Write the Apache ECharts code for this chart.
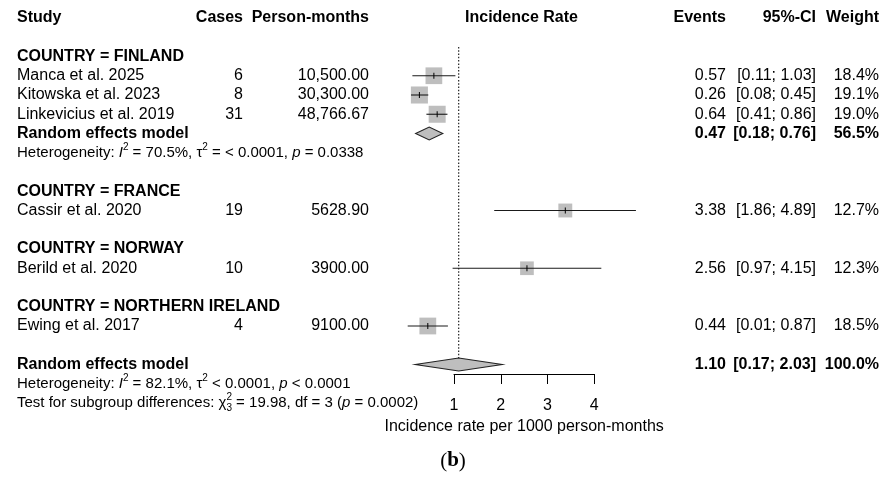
<!DOCTYPE html>
<html>
<head>
<meta charset="utf-8">
<script src="https://cdn.jsdelivr.net/npm/echarts@6/dist/echarts.min.js"></script>
<style>
  html, body { margin: 0; padding: 0; background: #ffffff; }
  #chart { width: 883px; height: 477px; }
</style>
</head>
<body>
<div id="chart"></div>
<script>
// ---- study-level data ----
const studies = ['Manca et al. 2025', 'Kitowska et al. 2023', 'Linkevicius et al. 2019',
                 'Cassir et al. 2020', 'Berild et al. 2020', 'Ewing et al. 2017'];
const studyCountry = ['FINLAND', 'FINLAND', 'FINLAND', 'FRANCE', 'NORWAY', 'NORTHERN IRELAND'];
const cases = [6, 8, 31, 19, 10, 4];
const personMonths = ['10,500.00', '30,300.00', '48,766.67', '5628.90', '3900.00', '9100.00'];
const rate = [0.57, 0.26, 0.64, 3.38, 2.56, 0.44];
const ciLower = [0.11, 0.08, 0.41, 1.86, 0.97, 0.01];
const ciUpper = [1.03, 0.45, 0.86, 4.89, 4.15, 0.87];
const weight = [18.4, 19.1, 19.0, 12.7, 12.3, 18.5];

// ---- subgroup summaries (only subgroups with more than one study are pooled) ----
const countries = ['FINLAND', 'FRANCE', 'NORWAY', 'NORTHERN IRELAND'];
const pooledRate = [0.47, null, null, null];
const pooledLower = [0.18, null, null, null];
const pooledUpper = [0.76, null, null, null];
const pooledWeight = [56.5, null, null, null];
const pooledHet = ['Heterogeneity: {i|I}{s|2} = 70.5%, τ{s|2} = < 0.0001, {i|p} = 0.0338', null, null, null];

// ---- overall random effects model ----
const overallRate = 1.10;
const overallLower = 0.17;
const overallUpper = 2.03;
const overallWeight = 100.0;
const overallHet = 'Heterogeneity: {i|I}{s|2} = 82.1%, τ{s|2} < 0.0001, {i|p} < 0.0001';
const subgroupTest = 'Test for subgroup differences: χ{s0|2}{b|3} = 19.98, df = 3 ({i|p} = 0.0002)';

// ---- axis ----
const xTicks = [1, 2, 3, 4];
const xTitle = 'Incidence rate per 1000 person-months';

// ---- layout ----
const FONT = '"Liberation Sans", Arial, Helvetica, sans-serif';
const SERIF = '"Liberation Serif", "Times New Roman", serif';
const COL = { study: 17, cases: 243, pm: 369, ir: 521.5, events: 726, ci: 816, weight: 879 };
const ROW_H = 19.25;
const DIAMOND_HALF = 6.5;
const SQUARE_K = 3.9;

// Build the list of table rows (row index = vertical slot)
const rows = [];
let r = 0;
rows.push({ kind: 'header', row: r++ });
r++;
countries.forEach((c, g) => {
  rows.push({ kind: 'group', row: r++, label: 'COUNTRY = ' + c });
  studies.forEach((s, i) => {
    if (studyCountry[i] === c) rows.push({ kind: 'study', row: r++, i });
  });
  if (pooledRate[g] != null) {
    rows.push({ kind: 'pooled', row: r++, rate: pooledRate[g], lower: pooledLower[g], upper: pooledUpper[g], weight: pooledWeight[g] });
    rows.push({ kind: 'note', row: r++, text: pooledHet[g] });
  }
  r++;
});
const overallRow = r;
rows.push({ kind: 'pooled', row: r++, rate: overallRate, lower: overallLower, upper: overallUpper, weight: overallWeight });
rows.push({ kind: 'note', row: r++, text: overallHet });
rows.push({ kind: 'note', row: r++, text: subgroupTest });

const noteRich = {
  i: { fontStyle: 'italic', fontSize: 15, fontFamily: FONT, fill: '#000' },
  s: { fontSize: 10, fontFamily: FONT, padding: [0, 0, 12, 0] },
  s0: { fontSize: 10, fontFamily: FONT, width: 0, padding: [0, 0, 12, 0] },
  b: { fontSize: 10, fontFamily: FONT, padding: [11, 0, 0, 0] }
};

function txt(text, x, y, align, bold, size) {
  return {
    type: 'text',
    style: {
      text: String(text), x, y, align, verticalAlign: 'middle',
      fill: '#000', fontFamily: FONT, fontSize: size || 16,
      fontWeight: bold ? 'bold' : 'normal'
    }
  };
}

function fmt2(v) { return v.toFixed(2); }

function renderTable(params, api) {
  const rw = rows[params.dataIndex];
  const y = api.coord([1, rw.row])[1];
  const ch = [];
  if (rw.kind === 'header') {
    ch.push(txt('Study', COL.study, y, 'left', true));
    ch.push(txt('Cases', COL.cases, y, 'right', true));
    ch.push(txt('Person-months', COL.pm, y, 'right', true));
    ch.push(txt('Incidence Rate', COL.ir, y, 'center', true));
    ch.push(txt('Events', COL.events, y, 'right', true));
    ch.push(txt('95%-CI', COL.ci, y, 'right', true));
    ch.push(txt('Weight', COL.weight, y, 'right', true));
  } else if (rw.kind === 'group') {
    ch.push(txt(rw.label, COL.study, y, 'left', true));
  } else if (rw.kind === 'study') {
    const i = rw.i;
    ch.push(txt(studies[i], COL.study, y, 'left', false));
    ch.push(txt(cases[i], COL.cases, y, 'right', false));
    ch.push(txt(personMonths[i], COL.pm, y, 'right', false));
    ch.push(txt(fmt2(rate[i]), COL.events, y, 'right', false));
    ch.push(txt('[' + fmt2(ciLower[i]) + '; ' + fmt2(ciUpper[i]) + ']', COL.ci, y, 'right', false));
    ch.push(txt(weight[i].toFixed(1) + '%', COL.weight, y, 'right', false));
  } else if (rw.kind === 'pooled') {
    ch.push(txt('Random effects model', COL.study, y, 'left', true));
    ch.push(txt(fmt2(rw.rate), COL.events, y, 'right', true));
    ch.push(txt('[' + fmt2(rw.lower) + '; ' + fmt2(rw.upper) + ']', COL.ci, y, 'right', true));
    ch.push(txt(rw.weight.toFixed(1) + '%', COL.weight, y, 'right', true));
  } else if (rw.kind === 'note') {
    ch.push({
      type: 'text',
      style: {
        text: rw.text, x: COL.study, y, align: 'left', verticalAlign: 'middle',
        fill: '#000', fontFamily: FONT, fontSize: 15, rich: noteRich
      }
    });
  }
  return { type: 'group', children: ch };
}

function renderMarks(params, api) {
  const rw = rows[params.dataIndex];
  const ch = [];
  if (rw.kind === 'study') {
    const i = rw.i;
    const c = api.coord([rate[i], rw.row]);
    const lo = api.coord([ciLower[i], rw.row]);
    const hi = api.coord([ciUpper[i], rw.row]);
    const side = SQUARE_K * Math.sqrt(weight[i]);
    ch.push({ type: 'rect', shape: { x: c[0] - side / 2, y: c[1] - side / 2, width: side, height: side },
              style: { fill: '#bebebe', stroke: null } });
    ch.push({ type: 'line', shape: { x1: lo[0], y1: c[1], x2: hi[0], y2: c[1] },
              style: { stroke: '#1a1a1a', lineWidth: 1.1 } });
    ch.push({ type: 'line', shape: { x1: c[0], y1: c[1] - 3, x2: c[0], y2: c[1] + 3 },
              style: { stroke: '#000', lineWidth: 1 } });
  } else if (rw.kind === 'pooled') {
    const c = api.coord([rw.rate, rw.row]);
    const lo = api.coord([rw.lower, rw.row]);
    const hi = api.coord([rw.upper, rw.row]);
    ch.push({ type: 'polygon',
              shape: { points: [[lo[0], c[1]], [c[0], c[1] - DIAMOND_HALF], [hi[0], c[1]], [c[0], c[1] + DIAMOND_HALF]] },
              style: { fill: '#bebebe', stroke: '#222', lineWidth: 1.1 } });
  }
  return { type: 'group', children: ch };
}

function renderRefLine(params, api) {
  const top = api.coord([overallRate, 1.5]);
  const bottom = api.coord([overallRate, overallRow]);
  return {
    type: 'line',
    shape: { x1: top[0], y1: top[1], x2: bottom[0], y2: bottom[1] - DIAMOND_HALF },
    style: { stroke: '#222', lineWidth: 1.2, lineDash: [1.5, 1.8] }
  };
}

const chart = echarts.init(document.getElementById('chart'), null, { renderer: 'canvas' });
chart.setOption({
  animation: false,
  backgroundColor: '#ffffff',
  grid: { left: 454, width: 140.3, top: 18, height: 356 },
  xAxis: {
    type: 'value', min: 1, max: 4, interval: 1, position: 'bottom',
    axisLine: { show: true, onZero: false, lineStyle: { color: '#000', width: 1 } },
    axisTick: { show: true, length: 10, lineStyle: { color: '#000', width: 1 }, customValues: xTicks },
    axisLabel: { show: true, margin: 24, fontSize: 16, color: '#000', fontFamily: FONT, customValues: xTicks },
    splitLine: { show: false },
    name: xTitle, nameLocation: 'middle', nameGap: 44,
    nameTextStyle: { fontSize: 16, color: '#000', fontFamily: FONT }
  },
  yAxis: { type: 'value', min: 0, max: 356 / ROW_H, inverse: true, show: false },
  graphic: [{
    type: 'text', x: 453, y: 461,
    style: {
      text: '({bb|b})', align: 'center', verticalAlign: 'middle',
      fontFamily: SERIF, fontSize: 21, fill: '#000',
      rich: { bb: { fontWeight: 'bold', fontFamily: SERIF, fontSize: 21 } }
    }
  }],
  series: [
    { type: 'custom', name: 'reference', renderItem: renderRefLine, data: [[overallRate, overallRow]], silent: true },
    { type: 'custom', name: 'marks', renderItem: renderMarks, data: rows.map(rw => [1, rw.row]), silent: true },
    { type: 'custom', name: 'table', renderItem: renderTable, data: rows.map(rw => [1, rw.row]), silent: true }
  ]
});
</script>
</body>
</html>
